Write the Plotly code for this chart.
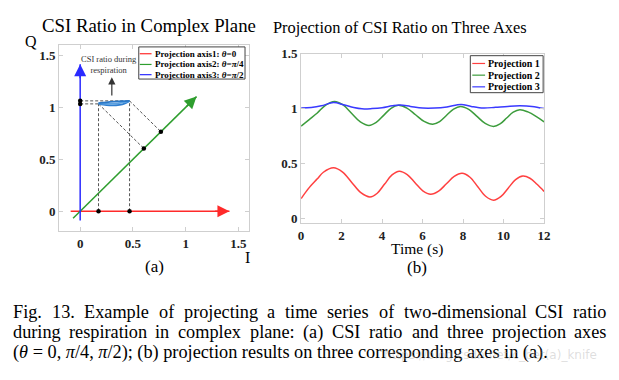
import math
import re
import plotly.graph_objects as go

# ---------------- data ----------------
# (a) projection axes
AXIS_NAMES = ["Projection axis1: <i>θ</i>=0", "Projection axis2: <i>θ</i>=<i>π</i>/4", "Projection axis3: <i>θ</i>=<i>π</i>/2"]
AXIS_THETA = [0.0, math.pi / 4, math.pi / 2]
AXIS_START = [-0.09, -0.095, -0.09]
AXIS_END = [1.415, 1.56, 1.415]
AXIS_COLORS = ["#ff2a2a", "#2e9e2e", "#2a2aff"]

# CSI ratio strands during respiration (I, Q)
ARC_I_UPPER = [0.174, 0.25, 0.32, 0.40, 0.468]
ARC_Q_UPPER = [1.040, 1.048, 1.054, 1.059, 1.062]
ARC_I_MID = [0.174, 0.23, 0.29, 0.35, 0.41, 0.468]
ARC_Q_MID = [1.037, 1.034, 1.034, 1.038, 1.047, 1.062]
ARC_I_LOWER = [0.174, 0.22, 0.28, 0.34, 0.40, 0.44, 0.468]
ARC_Q_LOWER = [1.035, 1.025, 1.019, 1.020, 1.029, 1.045, 1.062]

# (b) projections over time
T1 = [0, 0.4, 0.8, 1.1, 1.6, 2.05, 2.5, 2.95, 3.4, 3.76, 4.125, 4.49, 4.85, 5.24, 5.625, 6.01, 6.4,
      6.79, 7.175, 7.56, 7.95, 8.34, 8.725, 9.11, 9.5, 9.86, 10.225, 10.59, 10.95, 11.3, 11.65, 12]
P1 = [0.18, 0.28, 0.36, 0.42, 0.46, 0.421, 0.3275, 0.234, 0.195, 0.229, 0.3125, 0.396, 0.43, 0.399, 0.325,
      0.251, 0.22, 0.248, 0.315, 0.382, 0.41, 0.374, 0.2875, 0.201, 0.165, 0.197, 0.275, 0.353, 0.385,
      0.365, 0.31, 0.245]
T2 = [0, 0.4, 0.8, 1.2, 1.65, 2.075, 2.5, 2.925, 3.35, 3.71, 4.075, 4.44, 4.8, 5.225, 5.65, 6.075, 6.5,
      6.84, 7.185, 7.53, 7.87, 8.28, 8.685, 9.09, 9.5, 9.825, 10.15, 10.475, 10.8, 11.2, 11.6, 12]
P2 = [0.84, 0.90, 0.96, 1.03, 1.065, 1.033, 0.956, 0.879, 0.847, 0.874, 0.9385, 1.003, 1.03, 1.005, 0.944,
      0.883, 0.858, 0.882, 0.939, 0.996, 1.02, 0.993, 0.929, 0.865, 0.838, 0.86, 0.914, 0.968, 0.99,
      0.97, 0.93, 0.88]
T3 = [0, 0.5, 1.0, 1.6, 2.1, 2.6, 3.0, 3.5, 4.0, 4.5, 4.9, 5.4, 6.0, 6.6, 7.2, 7.9, 8.4, 9.0, 9.6, 10.2,
      10.8, 11.4, 12]
P3 = [1.005, 1.01, 1.025, 1.055, 1.035, 1.01, 0.998, 1.0, 1.008, 1.025, 1.033, 1.02, 1.005, 1.005, 1.015,
      1.038, 1.02, 1.005, 1.012, 1.02, 1.025, 1.02, 1.0]
PROJ_NAMES = ["Projection 1", "Projection 2", "Projection 3"]
PROJ_COLORS = ["#ff4040", "#3c9c3c", "#3a3aff"]

TICKS_A = [0, 0.5, 1, 1.5]
TICK_LABELS_A = ["0", "0.5", "1", "1.5"]
TICKS_BX = [0, 2, 4, 6, 8, 10, 12]
TICKS_BY = [0, 0.5, 1, 1.5]
TICK_LABELS_BY = ["0", "0.5", "1", "1.5"]

CAPTION = [
    "Fig. 13. Example of projecting a time series of two-dimensional CSI ratio",
    "during respiration in complex plane: (a) CSI ratio and three projection axes",
    "(<i>θ</i> = 0, <i>π</i>/4, <i>π</i>/2); (b) projection results on three corresponding axes in (a).",
]
WATERMARK = "https://blog.csdn.net/c_bet(a)_knife"

W, H = 619, 380
SERIF = "Liberation Serif, Times New Roman, serif"

# approximate Times advance widths (1/1000 em) for justifying caption lines
CW = {" ": 250, "(": 333, ")": 333, ",": 250, "-": 333, ".": 250, "/": 278, ":": 278, ";": 278,
      "=": 564, "θ": 500, "π": 550, "A": 722, "C": 667, "E": 611, "F": 556, "I": 333, "S": 556,
      "a": 444, "b": 500, "c": 444, "d": 500, "e": 444, "f": 333, "g": 500, "h": 500, "i": 278,
      "j": 278, "k": 500, "l": 278, "m": 778, "n": 500, "o": 500, "p": 500, "q": 500, "r": 333,
      "s": 389, "t": 278, "u": 500, "v": 500, "w": 722, "x": 500, "y": 500, "z": 444}


def text_units(s):
    s = re.sub(r"<[^>]+>", "", s)
    return sum(CW.get(ch, 500) for ch in s)


def px(x):
    return x / W


def py(y):
    return 1 - y / H


fig = go.Figure()

# ---------- (a) ----------
for name, th, s0, s1, col in zip(AXIS_NAMES, AXIS_THETA, AXIS_START, AXIS_END, AXIS_COLORS):
    fig.add_trace(go.Scatter(
        x=[s0 * math.cos(th), s1 * math.cos(th)], y=[s0 * math.sin(th), s1 * math.sin(th)],
        mode="lines", line=dict(color=col, width=1.5), name=name, showlegend=False,
        xaxis="x", yaxis="y", hoverinfo="skip"))

L = (ARC_I_LOWER[0], 1.033)
R = (ARC_I_LOWER[-1], ARC_Q_LOWER[-1])
dash_col = "#555555"
for (pi_, pq) in [L, R]:
    proj = (pi_ + pq) / 2
    for xs, ys in [([0, pi_], [pq, pq]), ([pi_, pi_], [0, pq]), ([pi_, proj], [pq, proj])]:
        fig.add_trace(go.Scatter(x=xs, y=ys, mode="lines",
                                 line=dict(color=dash_col, width=1, dash="3px,2px"),
                                 showlegend=False, xaxis="x", yaxis="y", hoverinfo="skip"))
dots_x, dots_y = [], []
for (pi_, pq) in [L, R]:
    proj = (pi_ + pq) / 2
    dots_x += [0, pi_, proj]
    dots_y += [pq, 0, proj]
fig.add_trace(go.Scatter(x=dots_x, y=dots_y, mode="markers",
                         marker=dict(color="black", size=4.5), showlegend=False,
                         xaxis="x", yaxis="y", hoverinfo="skip"))

for xs, ys, col in [(ARC_I_LOWER, ARC_Q_LOWER, "#2f7fd0"), (ARC_I_MID, ARC_Q_MID, "#5aa0e0"),
                    (ARC_I_UPPER, ARC_Q_UPPER, "#2a78c8")]:
    fig.add_trace(go.Scatter(x=xs, y=ys, mode="lines", line=dict(color=col, width=1.8, shape="spline"),
                             showlegend=False, xaxis="x", yaxis="y", hoverinfo="skip"))

# ---------- (b) ----------
for t, p, name, col in zip([T1, T2, T3], [P1, P2, P3], PROJ_NAMES, PROJ_COLORS):
    fig.add_trace(go.Scatter(x=t, y=p, mode="lines", name=name,
                             line=dict(color=col, width=1.5, shape="spline", smoothing=1.0),
                             showlegend=False, xaxis="x2", yaxis="y2"))

annotations = []
shapes = []

for th, s1, col in zip(AXIS_THETA, AXIS_END, AXIS_COLORS):
    annotations.append(dict(
        x=s1 * math.cos(th), y=s1 * math.sin(th),
        ax=(s1 - 0.15) * math.cos(th), ay=(s1 - 0.15) * math.sin(th),
        xref="x", yref="y", axref="x", ayref="y", text="", showarrow=True,
        arrowhead=2, arrowsize=1.6, arrowwidth=1.5, arrowcolor=col))

annotations.append(dict(x=0.30, y=1.29, ax=0.30, ay=1.10, xref="x", yref="y", axref="x", ayref="y",
                        text="", showarrow=True, arrowhead=2, arrowsize=1.2, arrowwidth=1.2,
                        arrowcolor="#333333"))
annotations.append(dict(x=0.275, y=1.415, xref="x", yref="y", showarrow=False,
                        xanchor="center", yanchor="middle",
                        text="CSI ratio during<br>respiration", align="center",
                        font=dict(family=SERIF, size=8.5, color="#333333")))


def label(x, y, text, size, xanchor="center"):
    annotations.append(dict(x=px(x), y=py(y), xref="paper", yref="paper", showarrow=False,
                            xanchor=xanchor, yanchor="middle", text=text,
                            font=dict(family=SERIF, size=size, color="black")))


label(148, 19, "CSI Ratio in Complex Plane", 18.8)
label(404, 21, "Projection of CSI Ratio on Three Axes", 16.4)
label(28, 35, "Q", 16)
label(249, 257, "I", 16)
label(154, 267, "(a)", 17)
label(421, 249, "Time (s)", 15.5)
label(421, 268, "(b)", 17)


def legend(x0, x1, y0, y1, rows, names, colors, fsize, lx0, lx1):
    shapes.append(dict(type="rect", xref="paper", yref="paper", x0=px(x0), x1=px(x1), y0=py(y1), y1=py(y0),
                       line=dict(color="#444444", width=1), fillcolor="white", layer="above"))
    for r, n, c in zip(rows, names, colors):
        shapes.append(dict(type="line", xref="paper", yref="paper", x0=px(lx0), x1=px(lx1), y0=py(r), y1=py(r),
                           line=dict(color=c, width=1.2), layer="above"))
        annotations.append(dict(x=px(lx1 + 1), y=py(r), xref="paper", yref="paper", xanchor="left",
                                yanchor="middle", showarrow=False, text="<b>" + n + "</b>",
                                font=dict(family=SERIF, size=fsize, color="black")))


legend(138, 246, 41, 74, [48, 59, 69.5], AXIS_NAMES, AXIS_COLORS, 9, 139, 151)
legend(475, 549, 50, 88, [58, 70, 82], PROJ_NAMES, PROJ_COLORS, 10, 477, 490)

# caption: font size from last line width, first lines justified word by word
CAP_LEFT, CAP_RIGHT, LAST_RIGHT = 8, 611, 545
cap_size = (LAST_RIGHT - CAP_LEFT) / (text_units(CAPTION[-1]) / 1000.0)
cap_rows = [313, 334, 355]
for i, line in enumerate(CAPTION):
    if i < len(CAPTION) - 1:
        words = line.split(" ")
        widths = [text_units(w) / 1000.0 * cap_size for w in words]
        gap = (CAP_RIGHT - CAP_LEFT - sum(widths)) / (len(words) - 1)
        x = CAP_LEFT
        for w, wd in zip(words, widths):
            annotations.append(dict(x=px(x), y=py(cap_rows[i]), xref="paper", yref="paper",
                                    xanchor="left", yanchor="middle", showarrow=False, text=w,
                                    font=dict(family=SERIF, size=cap_size, color="black")))
            x += wd + gap
    else:
        annotations.append(dict(x=px(CAP_LEFT), y=py(cap_rows[i]), xref="paper", yref="paper",
                                xanchor="left", yanchor="middle", showarrow=False, text=line,
                                font=dict(family=SERIF, size=cap_size, color="black")))
annotations.append(dict(x=px(606), y=py(357), xref="paper", yref="paper", xanchor="right", yanchor="middle",
                        showarrow=False, text=WATERMARK,
                        font=dict(family="DejaVu Sans", size=12, color="rgba(160,160,160,0.35)")))

axis_common = dict(showline=True, linecolor="#cfcfcf", linewidth=1, mirror="allticks", ticks="inside",
                   ticklen=4, tickcolor="#cfcfcf", showgrid=False, zeroline=False,
                   tickfont=dict(family=SERIF, size=13, color="#222222", weight="bold"))

fig.update_layout(
    width=W, height=H, margin=dict(l=0, r=0, t=0, b=0),
    paper_bgcolor="white", plot_bgcolor="white", showlegend=False,
    xaxis=dict(domain=[px(57), px(250)], range=[-0.2, 1.6], tickvals=TICKS_A, ticktext=TICK_LABELS_A,
               anchor="y", **axis_common),
    yaxis=dict(domain=[py(230), py(39)], range=[-0.19, 1.6], tickvals=TICKS_A, ticktext=TICK_LABELS_A,
               anchor="x", **axis_common),
    xaxis2=dict(domain=[px(303), px(550)], range=[0, 12], tickvals=TICKS_BX, anchor="y2", **axis_common),
    yaxis2=dict(domain=[py(222), py(48)], range=[-0.044, 1.5], tickvals=TICKS_BY, ticktext=TICK_LABELS_BY,
                anchor="x2", **axis_common),
    annotations=annotations, shapes=shapes,
)

fig.write_html("out.html", config={"displayModeBar": False},
               post_script="document.body.style.margin='0';document.body.style.overflow='hidden';")
